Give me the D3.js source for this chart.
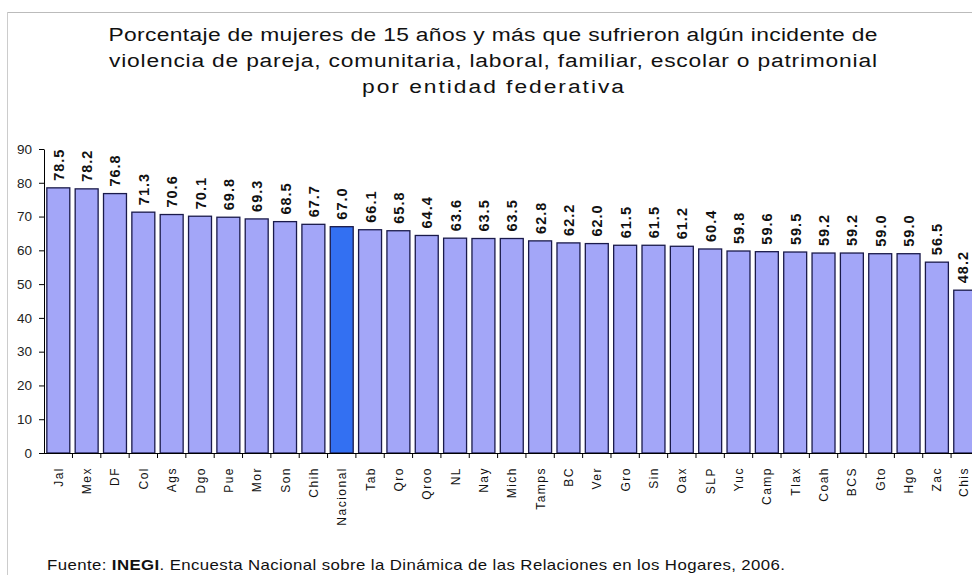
<!DOCTYPE html>
<html>
<head>
<meta charset="utf-8">
<script src="https://cdn.jsdelivr.net/npm/d3@7"></script>
<style>
body { margin: 0; background: #fff; overflow: hidden; }
svg { display: block; font-family: Arial, "Liberation Sans", sans-serif; }
.title { font-size: 19px; fill: #111; }
.val { font-size: 14.5px; font-weight: bold; fill: #111; letter-spacing: 1px; }
.cat { font-size: 12px; fill: #111; letter-spacing: 1.5px; }
.axis text { font-size: 13.5px; fill: #222; font-family: Arial, "Liberation Sans", sans-serif; }
.axis path, .axis line { stroke: #000; }
</style>
</head>
<body>
<svg id="chart" width="972" height="575"></svg>
<script>
// DATA
var states = ['Jal', 'Mex', 'DF', 'Col', 'Ags', 'Dgo', 'Pue', 'Mor', 'Son', 'Chih', 'Nacional', 'Tab',
    'Qro', 'Qroo', 'NL', 'Nay', 'Mich', 'Tamps', 'BC', 'Ver', 'Gro', 'Sin', 'Oax', 'SLP', 'Yuc',
    'Camp', 'Tlax', 'Coah', 'BCS', 'Gto', 'Hgo', 'Zac', 'Chis'];
var values = [78.5, 78.2, 76.8, 71.3, 70.6, 70.1, 69.8, 69.3, 68.5, 67.7, 67.0, 66.1,
    65.8, 64.4, 63.6, 63.5, 63.5, 62.8, 62.2, 62.0, 61.5, 61.5, 61.2, 60.4, 59.8,
    59.6, 59.5, 59.2, 59.2, 59.0, 59.0, 56.5, 48.2];
var y_ticks = [0, 10, 20, 30, 40, 50, 60, 70, 80, 90];
var title_lines = [
    'Porcentaje de mujeres de 15 años y más que sufrieron algún incidente de',
    'violencia de pareja, comunitaria, laboral, familiar, escolar o patrimonial',
    'por entidad federativa'
];

var chrt = {
    config: {
        left: 44,
        zero: 453,
        top: 149,
        step: 28.35,
        stretch: 1.2,               // the scanned text is a bit wide
        title_widths: [769, 768, 262]
    },
    build_chart: function() {
        var c = this.config;
        var svg = d3.select('svg#chart');
        var data = states.map(function(s, i) { return { 'name': s, 'value': values[i] }; });

        // frame lines, like the scanned picture
        svg.append('line').attr('x1', 7).attr('x2', 972).attr('y1', 12.5).attr('y2', 12.5)
            .attr('stroke', '#bbb');
        svg.append('line').attr('x1', 7.5).attr('x2', 7.5).attr('y1', 12).attr('y2', 575)
            .attr('stroke', '#ccc');

        // Title
        svg.selectAll('text.title')
            .data(title_lines)
            .enter().append('text')
            .attr('class', 'title')
            .attr('transform', function(d, i) {
                return 'translate(493,' + (41 + i * 26) + ') scale(' + c.stretch + ',1)';
            })
            .attr('text-anchor', 'middle')
            .attr('textLength', function(d, i) { return c.title_widths[i] / c.stretch; })
            .attr('lengthAdjust', 'spacing')
            .text(function(d) { return d; });

        var x = d3.scaleBand()
            .domain(states)
            .range([c.left, c.left + states.length * c.step])
            .paddingInner(0.19)
            .paddingOuter(0.1);
        var y = d3.scaleLinear().domain([0, 90]).range([c.zero, c.top]);

        var g = svg.append('g');

        g.selectAll('rect.bar')
            .data(data)
            .enter().append('rect')
            .attr('class', 'bar')
            .attr('x', function(d) { return x(d.name); })
            .attr('y', function(d) { return y(d.value); })
            .attr('width', x.bandwidth())
            .attr('height', function(d) { return y(0) - y(d.value); })
            .attr('fill', function(d) { return d.name == 'Nacional' ? '#3370f2' : '#a3a6f8'; })
            .attr('stroke', '#1a1a4a')
            .attr('stroke-width', 1.3);

        // value labels (last one nudged so it stays inside the window)
        g.selectAll('text.val')
            .data(data)
            .enter().append('text')
            .attr('class', 'val')
            .attr('transform', function(d) {
                var tx = Math.min(x(d.name) + x.bandwidth() / 2 + 5.5, 968);
                return 'translate(' + tx + ',' + (y(d.value) - 7) + ') rotate(-90)';
            })
            .text(function(d) { return d.value.toFixed(1); });

        // Y axis
        g.append('g')
            .attr('class', 'axis')
            .attr('transform', 'translate(' + c.left + ',0)')
            .call(d3.axisLeft(y).tickValues(y_ticks).tickSize(5).tickSizeOuter(0).tickPadding(7))
            .call(function(a) { a.selectAll('text').text(function(d) { return d; }); });

        // X axis: ticks at band boundaries
        var edges = states.map(function(s) { return x(s) - x.step() * x.paddingInner() / 2; });
        g.append('line')
            .attr('x1', c.left).attr('x2', 972)
            .attr('y1', c.zero + 0.5).attr('y2', c.zero + 0.5)
            .attr('stroke', '#000');
        g.selectAll('line.xtick')
            .data(edges.slice(1))
            .enter().append('line')
            .attr('class', 'xtick')
            .attr('x1', function(d) { return d; }).attr('x2', function(d) { return d; })
            .attr('y1', c.zero).attr('y2', c.zero + 5)
            .attr('stroke', '#000');

        // category labels
        g.selectAll('text.cat')
            .data(data)
            .enter().append('text')
            .attr('class', 'cat')
            .attr('text-anchor', 'end')
            .attr('transform', function(d) {
                var tx = Math.min(x(d.name) + x.bandwidth() / 2 + 4.5, 968);
                return 'translate(' + tx + ',' + (c.zero + 14) + ') rotate(-90)';
            })
            .text(function(d) { return d.name; });

        // Source
        var src = svg.append('text')
            .attr('transform', 'translate(47,570) scale(' + c.stretch + ',1)')
            .attr('font-size', 14)
            .attr('fill', '#111')
            .attr('textLength', 738 / c.stretch)
            .attr('lengthAdjust', 'spacing');
        src.append('tspan').text('Fuente: ');
        src.append('tspan').attr('font-weight', 'bold').text('INEGI');
        src.append('tspan').text('. Encuesta Nacional sobre la Dinámica de las Relaciones en los Hogares, 2006.');
    },
    init: function() {
        chrt.build_chart();
    }
};

chrt.init();
</script>
</body>
</html>
